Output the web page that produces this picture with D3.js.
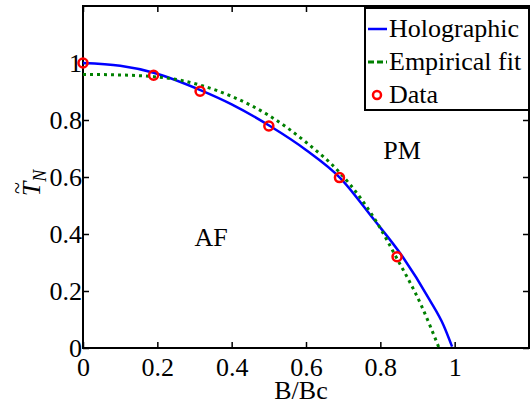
<!DOCTYPE html>
<html>
<head>
<meta charset="utf-8">
<script src="https://cdn.jsdelivr.net/npm/d3@7"></script>
<style>
  body { margin: 0; background: #fff; }
  text { font-family: "Liberation Serif", "DejaVu Serif", serif; fill: #000; }
</style>
</head>
<body>
<div id="chart"></div>
<script>
// values
const tickValues = [0, 0.2, 0.4, 0.6, 0.8, 1];

const holoB = [0, 0.1, 0.19, 0.316, 0.4, 0.503, 0.6, 0.691, 0.78, 0.86, 0.933, 0.97, 0.993];
const holoT = [1, 0.99, 0.966, 0.905, 0.855, 0.779, 0.695, 0.598, 0.455, 0.32, 0.168, 0.08, 0.005];

const fitB = [0, 0.1, 0.19, 0.26, 0.316, 0.4, 0.5, 0.6, 0.691, 0.75, 0.8, 0.838, 0.91, 0.958];
const fitT = [0.96, 0.958, 0.952, 0.94, 0.922, 0.883, 0.816, 0.722, 0.615, 0.52, 0.42, 0.33, 0.15, 0];

const dataB = [0, 0.19, 0.315, 0.5, 0.69, 0.845];
const dataT = [1, 0.957, 0.901, 0.779, 0.598, 0.32];

const legendLabels = ["Holographic", "Empirical fit", "Data"];

// plot box in pixels
const width = 532, height = 402;
const margin = {left: 83, right: 529, top: 6, bottom: 348};
const serif = "'Liberation Serif', 'DejaVu Serif', serif";

const svg = d3.select("#chart").append("svg")
    .attr("width", width)
    .attr("height", height);

const x = d3.scaleLinear().domain([0, 1.2]).range([margin.left, margin.right]);
const y = d3.scaleLinear().domain([0, 1.2]).range([margin.bottom, margin.top]);

const fmt = d => String(+d.toFixed(1));

// axes with inward ticks on all four sides
svg.append("g")
    .attr("transform", "translate(0," + margin.bottom + ")")
    .call(d3.axisBottom(x).tickValues(tickValues).tickFormat(fmt)
        .tickSizeInner(-6).tickSizeOuter(0).tickPadding(10));
svg.append("g")
    .attr("transform", "translate(0," + margin.top + ")")
    .call(d3.axisTop(x).tickValues(tickValues).tickFormat("")
        .tickSizeInner(-6).tickSizeOuter(0));
svg.append("g")
    .attr("transform", "translate(" + margin.left + ",0)")
    .call(d3.axisLeft(y).tickValues(tickValues).tickFormat(fmt)
        .tickSizeInner(-6).tickSizeOuter(0).tickPadding(1));
svg.append("g")
    .attr("transform", "translate(" + margin.right + ",0)")
    .call(d3.axisRight(y).tickValues(tickValues).tickFormat("")
        .tickSizeInner(-6).tickSizeOuter(0));

svg.selectAll(".tick line").attr("stroke", "#000").attr("stroke-width", 1.5);
svg.selectAll(".domain").remove();
svg.selectAll(".tick text")
    .attr("font-family", serif)
    .style("font-family", serif)
    .style("font-size", "26px");

// frame
svg.append("rect")
    .attr("x", margin.left).attr("y", margin.top)
    .attr("width", margin.right - margin.left).attr("height", margin.bottom - margin.top)
    .attr("fill", "none")
    .attr("stroke", "#000")
    .attr("stroke-width", 2);

const line = d3.line()
    .x(d => x(d[0]))
    .y(d => y(d[1]))
    .curve(d3.curveMonotoneX);

svg.append("path")
    .attr("d", line(holoB.map((b, i) => [b, holoT[i]])))
    .attr("fill", "none")
    .attr("stroke", "#0000ff")
    .attr("stroke-width", 2.5);

svg.append("path")
    .attr("d", line(fitB.map((b, i) => [b, fitT[i]])))
    .attr("fill", "none")
    .attr("stroke", "#008000")
    .attr("stroke-width", 3)
    .attr("stroke-dasharray", "3,4");

svg.selectAll(".pt")
    .data(dataB.map((b, i) => [b, dataT[i]]))
    .enter().append("circle")
    .attr("class", "pt")
    .attr("cx", d => x(d[0]))
    .attr("cy", d => y(d[1]))
    .attr("r", 4.5)
    .attr("fill", "none")
    .attr("stroke", "#ff0000")
    .attr("stroke-width", 2.5);

// region labels
svg.append("text").attr("x", 211).attr("y", 246)
    .attr("text-anchor", "middle").style("font-size", "26px").text("AF");
svg.append("text").attr("x", 402).attr("y", 159)
    .attr("text-anchor", "middle").style("font-size", "26px").text("PM");

// axis labels
svg.append("text").attr("x", 301).attr("y", 399)
    .attr("text-anchor", "middle").style("font-size", "26px").text("B/Bc");

const ylab = svg.append("g").attr("transform", "translate(40,183) rotate(-90)");
ylab.append("text")
    .attr("text-anchor", "middle")
    .style("font-size", "26px")
    .style("font-style", "italic")
    .text("T")
    .append("tspan")
    .attr("dy", 6)
    .style("font-size", "18px")
    .text("N");
ylab.append("text")
    .attr("x", -5).attr("y", -16)
    .attr("text-anchor", "middle")
    .style("font-size", "22px")
    .text("~");

// legend
const lg = svg.append("g").attr("transform", "translate(365,8)");
lg.append("rect")
    .attr("width", 164).attr("height", 102)
    .attr("fill", "#fff")
    .attr("stroke", "#000")
    .attr("stroke-width", 2);

const rows = lg.selectAll(".row")
    .data(legendLabels)
    .enter().append("g")
    .attr("class", "row")
    .attr("transform", (d, i) => "translate(0," + (20 + i * 33) + ")");

rows.append("text")
    .attr("x", 24).attr("y", 9)
    .style("font-size", "26px")
    .text(d => d);

lg.append("line").attr("x1", 3).attr("x2", 22).attr("y1", 21).attr("y2", 21)
    .attr("stroke", "#0000ff").attr("stroke-width", 2.5);
lg.append("line").attr("x1", 3).attr("x2", 22).attr("y1", 54).attr("y2", 54)
    .attr("stroke", "#008000").attr("stroke-width", 3).attr("stroke-dasharray", "6,3");
lg.append("circle").attr("cx", 12).attr("cy", 87).attr("r", 4)
    .attr("fill", "none").attr("stroke", "#ff0000").attr("stroke-width", 2.5);
</script>
</body>
</html>
